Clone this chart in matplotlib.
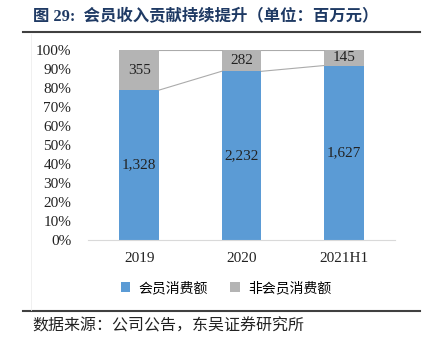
import matplotlib.pyplot as plt
import numpy as np

years = ['2019', '2020', '2021H1']
member = [1328, 2232, 1627]
non_member = [355, 282, 145]

plt.rcParams['font.family'] = ['Liberation Serif', 'Noto Sans CJK SC']

member = np.array(member, dtype=float)
non_member = np.array(non_member, dtype=float)
total = member + non_member
p_member = member / total * 100
p_non = non_member / total * 100

fig = plt.figure(figsize=(4.29, 3.52), dpi=100)
ax = fig.add_axes([88/429, 1 - 240/352, 307/429, 190/352])

X = np.arange(len(years))
w = 0.39
blue = '#5B9BD5'
gray = '#B4B4B4'
ax.bar(X, p_member, width=w, color=blue, label='会员消费额')
ax.bar(X, p_non, width=w, bottom=p_member, color=gray, label='非会员消费额')

# series lines between bars
for i in range(len(X) - 1):
    ax.plot([X[i] + w/2, X[i+1] - w/2], [p_member[i], p_member[i+1]],
            color='#ABABAB', lw=0.8)
    ax.plot([X[i] + w/2, X[i+1] - w/2], [100, 100], color='#ABABAB', lw=0.8)

for i in range(len(X)):
    ax.text(X[i], p_member[i] / 2, f'{int(member[i]):,}', ha='center', va='center',
            fontsize=11, color='#222222')
    ax.text(X[i], p_member[i] + p_non[i] / 2, f'{int(non_member[i]):,}', ha='center',
            va='center', fontsize=11, color='#222222')

ax.set_xlim(-0.5, 2.5)
ax.set_ylim(0, 100)
ax.set_yticks(np.arange(0, 101, 10))
ax.set_yticklabels([f'{v}%' for v in range(0, 101, 10)])
ax.set_xticks(X)
ax.set_xticklabels(years)
ax.tick_params(length=0, labelsize=11, colors='#222222')
ax.tick_params(axis='x', pad=9)
ax.tick_params(axis='y', pad=12)
for s in ['top', 'right', 'left']:
    ax.spines[s].set_visible(False)
ax.spines['bottom'].set_color('#D9D9D9')

fig.legend(loc='center', bbox_to_anchor=(226/429, 1 - 288/352), ncol=2, frameon=False,
           handlelength=0.7, handleheight=0.7, columnspacing=1.6, handletextpad=0.6,
           prop={'family': ['Noto Sans CJK SC'], 'size': 10})

fig.text(33/429, 1 - 17/352, '图 29:  会员收入贡献持续提升（单位：百万元）',
         fontsize=11.8, fontweight='bold', color='#1F3A64', va='center',
         family=['Liberation Serif', 'Noto Sans CJK SC'])
fig.add_artist(plt.Line2D([23/429, 420/429], [1 - 32/352, 1 - 32/352], color='#404040', lw=1.5))
fig.add_artist(plt.Line2D([23/429, 420/429], [1 - 311/352, 1 - 311/352], color='#404040', lw=1.5))
fig.add_artist(plt.Line2D([31/429, 31/429], [1 - 34/352, 1 - 310/352], color='#EEEEEE', lw=0.6))
fig.text(32/429, 1 - 326/352, '数据来源：公司公告，东吴证券研究所', fontsize=11.5,
         color='#222222', va='center', family=['Noto Sans CJK SC'])

fig.savefig('out.png', dpi=100)
